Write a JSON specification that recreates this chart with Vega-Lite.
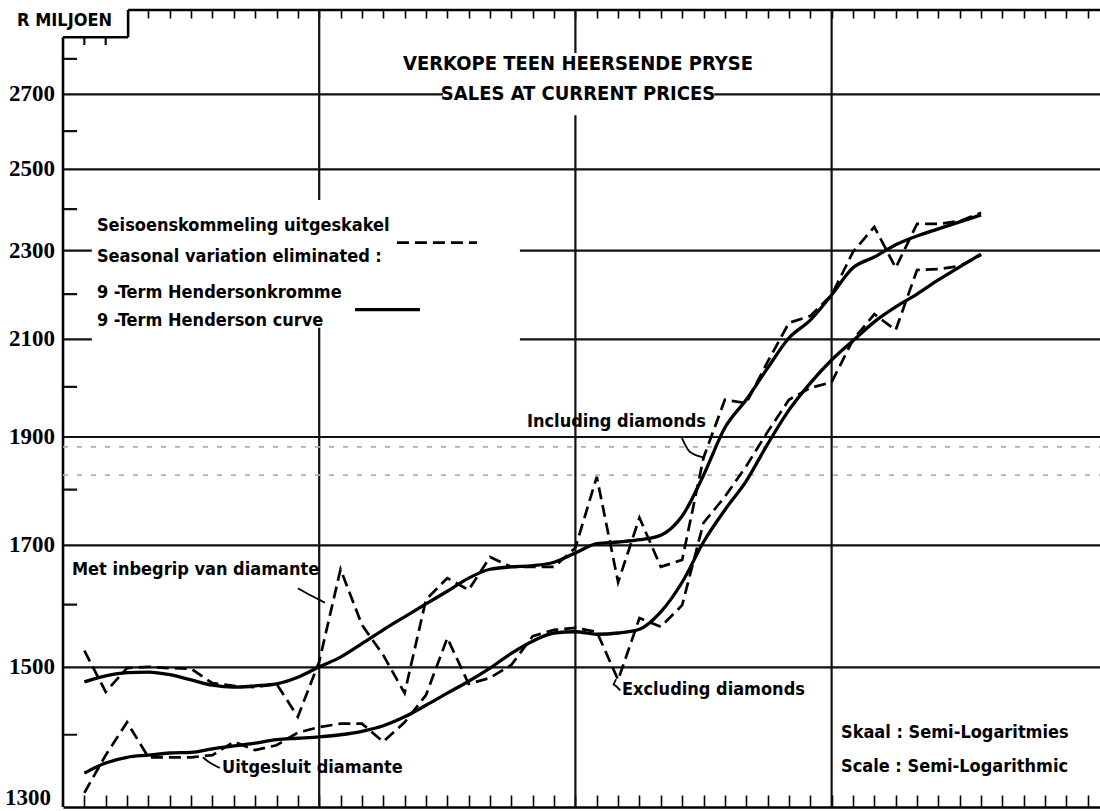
{
  "$schema": "https://vega.github.io/schema/vega-lite/v6.json",
  "width": 1037,
  "height": 797,
  "autosize": {"type": "none"},
  "padding": {"left": 63, "top": 10, "right": 0, "bottom": 4},
  "background": "white",
  "config": {"view": {"stroke": null}, "axis": {"grid": false}},
  "datasets": {
    "sales": [
      {"month": 1, "iSA": 1526, "iH": 1478, "eSA": 1319, "eH": 1346},
      {"month": 2, "iSA": 1463, "iH": 1487, "eSA": 1371, "eH": 1360},
      {"month": 3, "iSA": 1499, "iH": 1492, "eSA": 1418, "eH": 1368},
      {"month": 4, "iSA": 1501, "iH": 1493, "eSA": 1368, "eH": 1371},
      {"month": 5, "iSA": 1499, "iH": 1489, "eSA": 1368, "eH": 1374},
      {"month": 6, "iSA": 1498, "iH": 1481, "eSA": 1368, "eH": 1375},
      {"month": 7, "iSA": 1476, "iH": 1473, "eSA": 1371, "eH": 1380},
      {"month": 8, "iSA": 1472, "iH": 1470, "eSA": 1390, "eH": 1384},
      {"month": 9, "iSA": 1470, "iH": 1472, "eSA": 1378, "eH": 1388},
      {"month": 10, "iSA": 1475, "iH": 1475, "eSA": 1385, "eH": 1393},
      {"month": 11, "iSA": 1426, "iH": 1485, "eSA": 1403, "eH": 1395},
      {"month": 12, "iSA": 1509, "iH": 1501, "eSA": 1411, "eH": 1397},
      {"month": 13, "iSA": 1659, "iH": 1516, "eSA": 1416, "eH": 1400},
      {"month": 14, "iSA": 1567, "iH": 1537, "eSA": 1416, "eH": 1405},
      {"month": 15, "iSA": 1519, "iH": 1559, "eSA": 1390, "eH": 1413},
      {"month": 16, "iSA": 1461, "iH": 1580, "eSA": 1418, "eH": 1426},
      {"month": 17, "iSA": 1608, "iH": 1601, "eSA": 1458, "eH": 1443},
      {"month": 18, "iSA": 1644, "iH": 1622, "eSA": 1546, "eH": 1461},
      {"month": 19, "iSA": 1624, "iH": 1644, "eSA": 1475, "eH": 1479},
      {"month": 20, "iSA": 1680, "iH": 1659, "eSA": 1484, "eH": 1499},
      {"month": 21, "iSA": 1663, "iH": 1663, "eSA": 1504, "eH": 1522},
      {"month": 22, "iSA": 1663, "iH": 1665, "eSA": 1549, "eH": 1541},
      {"month": 23, "iSA": 1663, "iH": 1671, "eSA": 1559, "eH": 1554},
      {"month": 24, "iSA": 1696, "iH": 1687, "eSA": 1562, "eH": 1556},
      {"month": 25, "iSA": 1824, "iH": 1703, "eSA": 1556, "eH": 1552},
      {"month": 26, "iSA": 1637, "iH": 1706, "eSA": 1481, "eH": 1554},
      {"month": 27, "iSA": 1749, "iH": 1710, "eSA": 1578, "eH": 1560},
      {"month": 28, "iSA": 1663, "iH": 1718, "eSA": 1564, "eH": 1588},
      {"month": 29, "iSA": 1675, "iH": 1752, "eSA": 1599, "eH": 1637},
      {"month": 30, "iSA": 1860, "iH": 1827, "eSA": 1740, "eH": 1706},
      {"month": 31, "iSA": 1974, "iH": 1918, "eSA": 1787, "eH": 1763},
      {"month": 32, "iSA": 1967, "iH": 1974, "eSA": 1844, "eH": 1816},
      {"month": 33, "iSA": 2052, "iH": 2039, "eSA": 1910, "eH": 1886},
      {"month": 34, "iSA": 2136, "iH": 2103, "eSA": 1974, "eH": 1953},
      {"month": 35, "iSA": 2151, "iH": 2142, "eSA": 1998, "eH": 2008},
      {"month": 36, "iSA": 2198, "iH": 2198, "eSA": 2010, "eH": 2056},
      {"month": 37, "iSA": 2297, "iH": 2260, "eSA": 2099, "eH": 2097},
      {"month": 38, "iSA": 2357, "iH": 2285, "eSA": 2155, "eH": 2138},
      {"month": 39, "iSA": 2260, "iH": 2314, "eSA": 2120, "eH": 2171},
      {"month": 40, "iSA": 2364, "iH": 2335, "eSA": 2255, "eH": 2200},
      {"month": 41, "iSA": 2364, "iH": 2352, "eSA": 2257, "eH": 2232},
      {"month": 42, "iSA": 2371, "iH": 2369, "eSA": 2264, "eH": 2262},
      {"month": 43, "iSA": 2391, "iH": 2386, "eSA": 2290, "eH": 2292}
    ],
    "segments": [
      {"x1": 0, "x2": 0, "y1": 1300, "y2": 2863, "kind": "frame"},
      {"x1": 0, "x2": 3.05, "y1": 2863, "y2": 2863, "kind": "frame"},
      {"x1": 3.05, "x2": 3.05, "y1": 2863, "y2": 2944, "kind": "frame"},
      {"x1": 3.05, "x2": 48.57, "y1": 2944, "y2": 2944, "kind": "frame"},
      {"x1": 1, "x2": 1, "y1": 2840, "y2": 2863, "kind": "grid"},
      {"x1": 2, "x2": 2, "y1": 2840, "y2": 2863, "kind": "grid"},
      {"x1": 0, "x2": 48.57, "y1": 1500, "y2": 1500, "kind": "grid"},
      {"x1": 0, "x2": 48.57, "y1": 1700, "y2": 1700, "kind": "grid"},
      {"x1": 0, "x2": 48.57, "y1": 1900, "y2": 1900, "kind": "grid"},
      {"x1": 0, "x2": 1.35, "y1": 2100, "y2": 2100, "kind": "grid"},
      {"x1": 21.4, "x2": 48.57, "y1": 2100, "y2": 2100, "kind": "grid"},
      {"x1": 0, "x2": 1.35, "y1": 2300, "y2": 2300, "kind": "grid"},
      {"x1": 21.4, "x2": 48.57, "y1": 2300, "y2": 2300, "kind": "grid"},
      {"x1": 0, "x2": 48.57, "y1": 2500, "y2": 2500, "kind": "grid"},
      {"x1": 0, "x2": 17.8, "y1": 2700, "y2": 2700, "kind": "grid"},
      {"x1": 30.5, "x2": 48.57, "y1": 2700, "y2": 2700, "kind": "grid"},
      {"x1": 12, "x2": 12, "y1": 1300, "y2": 2125, "kind": "grid"},
      {"x1": 12, "x2": 12, "y1": 2423, "y2": 2944, "kind": "grid"},
      {"x1": 24, "x2": 24, "y1": 1300, "y2": 2643, "kind": "grid"},
      {"x1": 24, "x2": 24, "y1": 2817, "y2": 2944, "kind": "grid"},
      {"x1": 36, "x2": 36, "y1": 1300, "y2": 2944, "kind": "grid"},
      {"x1": 0, "x2": 0.66, "y1": 1400, "y2": 1400, "kind": "grid"},
      {"x1": 0, "x2": 0.66, "y1": 1600, "y2": 1600, "kind": "grid"},
      {"x1": 0, "x2": 0.66, "y1": 1800, "y2": 1800, "kind": "grid"},
      {"x1": 0, "x2": 0.66, "y1": 2000, "y2": 2000, "kind": "grid"},
      {"x1": 0, "x2": 0.66, "y1": 2200, "y2": 2200, "kind": "grid"},
      {"x1": 0, "x2": 0.66, "y1": 2400, "y2": 2400, "kind": "grid"},
      {"x1": 0, "x2": 0.66, "y1": 2600, "y2": 2600, "kind": "grid"},
      {"x1": 0, "x2": 0.66, "y1": 2800, "y2": 2800, "kind": "grid"},
      {"x1": 0, "x2": 48.57, "y1": 1881, "y2": 1881, "kind": "faint"},
      {"x1": 0, "x2": 48.57, "y1": 1827, "y2": 1827, "kind": "faint"}
    ],
    "yticks": [
      {"value": 1300, "label": "1300"},
      {"value": 1500, "label": "1500"},
      {"value": 1700, "label": "1700"},
      {"value": 1900, "label": "1900"},
      {"value": 2100, "label": "2100"},
      {"value": 2300, "label": "2300"},
      {"value": 2500, "label": "2500"},
      {"value": 2700, "label": "2700"}
    ],
    "samples": [
      {"x1": 15.64, "x2": 19.39, "y": 2319, "kind": "dash"},
      {"x1": 13.68, "x2": 16.72, "y": 2165, "kind": "solid"}
    ],
    "arrows": [
      {"id": "a", "ord": 1, "m": 11.0, "v": 1627},
      {"id": "a", "ord": 2, "m": 11.66, "v": 1614},
      {"id": "a", "ord": 3, "m": 12.27, "v": 1603},
      {"id": "b", "ord": 1, "m": 28.99, "v": 1898},
      {"id": "b", "ord": 2, "m": 29.37, "v": 1871},
      {"id": "b", "ord": 3, "m": 30.07, "v": 1860},
      {"id": "c", "ord": 1, "m": 7.35, "v": 1353},
      {"id": "c", "ord": 2, "m": 6.8, "v": 1362},
      {"id": "c", "ord": 3, "m": 6.55, "v": 1368},
      {"id": "d", "ord": 1, "m": 26.1, "v": 1465},
      {"id": "d", "ord": 2, "m": 25.75, "v": 1474},
      {"id": "d", "ord": 3, "m": 25.9, "v": 1482}
    ],
    "labels": [
      {"m": -2.15, "v": 2911, "text": "R MILJOEN", "style": "unit"},
      {"m": 24.12, "v": 2785, "text": "VERKOPE TEEN HEERSENDE PRYSE", "style": "title"},
      {"m": 24.12, "v": 2700, "text": "SALES AT CURRENT PRICES", "style": "title"},
      {"m": 1.59, "v": 2359, "text": "Seisoenskommeling uitgeskakel", "style": "legend"},
      {"m": 1.59, "v": 2285, "text": "Seasonal variation eliminated :", "style": "legend"},
      {"m": 1.59, "v": 2202, "text": "9 -Term Hendersonkromme", "style": "legend"},
      {"m": 1.59, "v": 2140, "text": "9 -Term Henderson curve", "style": "legend"},
      {"m": 21.73, "v": 1929, "text": "Including diamonds", "style": "label"},
      {"m": 0.42, "v": 1658, "text": "Met inbegrip van diamante", "style": "label"},
      {"m": 7.45, "v": 1353, "text": "Uitgesluit diamante", "style": "label"},
      {"m": 26.18, "v": 1465, "text": "Excluding diamonds", "style": "label"},
      {"m": 36.44, "v": 1403, "text": "Skaal : Semi-Logaritmies", "style": "label"},
      {"m": 36.44, "v": 1354, "text": "Scale : Semi-Logarithmic", "style": "label"}
    ]
  },
  "resolve": {"axis": {"x": "independent"}},
  "layer": [
    {
      "data": {"name": "segments"},
      "mark": {"type": "rule"},
      "encoding": {
        "x": {
          "field": "x1", "type": "quantitative",
          "scale": {"domain": [0, 48.57], "nice": false, "zero": false},
          "axis": {
            "orient": "bottom", "values": [1,2,3,4,5,6,7,8,9,10,11,12,13,14,15,16,17,18,19,20,21,22,23,24,25,26,27,28,29,30,31,32,33,34,35,36,37,38,39,40,41,42,43,44,45,46,47,48],
            "labels": false, "title": null, "tickSize": -12, "tickWidth": 1.6, "tickColor": "#000",
            "domain": true, "domainWidth": 2.6, "domainColor": "#000", "grid": false
          }
        },
        "x2": {"field": "x2"},
        "y": {
          "field": "y1", "type": "quantitative",
          "scale": {"type": "log", "domain": [1300, 2944], "nice": false},
          "axis": null
        },
        "y2": {"field": "y2"},
        "color": {"field": "kind", "type": "nominal", "legend": null,
          "scale": {"domain": ["frame", "grid", "faint"], "range": ["#000000", "#111111", "#b0b0b0"]}},
        "strokeWidth": {"field": "kind", "type": "nominal", "legend": null,
          "scale": {"domain": ["frame", "grid", "faint"], "range": [2.6, 1.8, 1]}},
        "strokeDash": {"field": "kind", "type": "nominal", "legend": null,
          "scale": {"domain": ["frame", "grid", "faint"], "range": [[1, 0], [1, 0], [5, 9]]}}
      }
    },
    {
      "data": {"name": "yticks"},
      "transform": [{"filter": "datum.value > 1300"}],
      "mark": {"type": "text", "align": "right", "baseline": "middle", "dx": -8, "font": "Liberation Sans Narrow", "fontSize": 23, "fontWeight": "bold", "color": "#000"},
      "encoding": {
        "x": {"datum": 0, "type": "quantitative", "axis": null},
        "y": {"field": "value", "type": "quantitative", "axis": null},
        "text": {"field": "label"}
      }
    },
    {
      "data": {"name": "yticks"},
      "transform": [{"filter": "datum.value == 1300"}],
      "mark": {"type": "text", "align": "right", "baseline": "middle", "dx": -12, "dy": -9, "font": "Liberation Sans Narrow", "fontSize": 23, "fontWeight": "bold", "color": "#000"},
      "encoding": {
        "x": {"datum": 0, "type": "quantitative", "axis": null},
        "y": {"field": "value", "type": "quantitative", "axis": null},
        "text": {"field": "label"}
      }
    },
    {
      "data": {"name": "sales"},
      "transform": [{"fold": ["iH", "eH"], "as": ["series", "value"]}],
      "mark": {"type": "line", "color": "#000", "strokeWidth": 3.3, "interpolate": "monotone"},
      "encoding": {
        "x": {
          "field": "month", "type": "quantitative",
          "axis": {
            "orient": "top", "values": [4,5,6,7,8,9,10,11,12,13,14,15,16,17,18,19,20,21,22,23,24,25,26,27,28,29,30,31,32,33,34,35,36,37,38,39,40,41,42,43,44,45,46,47,48],
            "labels": false, "title": null, "tickSize": -8, "tickWidth": 1.6, "tickColor": "#000",
            "domain": false, "grid": false
          }
        },
        "y": {"field": "value", "type": "quantitative", "axis": null},
        "detail": {"field": "series"}
      }
    },
    {
      "data": {"name": "sales"},
      "transform": [{"fold": ["iSA", "eSA"], "as": ["series", "value"]}],
      "mark": {"type": "line", "color": "#000", "strokeWidth": 2.7, "strokeDash": [12, 6]},
      "encoding": {
        "x": {"field": "month", "type": "quantitative", "axis": null},
        "y": {"field": "value", "type": "quantitative", "axis": null},
        "detail": {"field": "series"}
      }
    },
    {
      "data": {"name": "samples"},
      "transform": [{"filter": "datum.kind == 'dash'"}],
      "mark": {"type": "rule", "color": "#000", "strokeWidth": 2.7, "strokeDash": [12, 6]},
      "encoding": {
        "x": {"field": "x1", "type": "quantitative", "axis": null},
        "x2": {"field": "x2"},
        "y": {"field": "y", "type": "quantitative", "axis": null}
      }
    },
    {
      "data": {"name": "samples"},
      "transform": [{"filter": "datum.kind == 'solid'"}],
      "mark": {"type": "rule", "color": "#000", "strokeWidth": 3.3},
      "encoding": {
        "x": {"field": "x1", "type": "quantitative", "axis": null},
        "x2": {"field": "x2"},
        "y": {"field": "y", "type": "quantitative", "axis": null}
      }
    },
    {
      "data": {"name": "arrows"},
      "mark": {"type": "line", "color": "#000", "strokeWidth": 1.8, "interpolate": "monotone"},
      "encoding": {
        "x": {"field": "m", "type": "quantitative", "axis": null},
        "y": {"field": "v", "type": "quantitative", "axis": null},
        "detail": {"field": "id"},
        "order": {"field": "ord"}
      }
    },
    {
      "data": {"name": "labels"},
      "transform": [{"filter": "datum.style == 'title'"}],
      "mark": {"type": "text", "align": "center", "baseline": "middle", "font": "Liberation Sans Narrow, DejaVu Sans Condensed, DejaVu Sans", "fontSize": 20, "fontWeight": "bold", "color": "#000"},
      "encoding": {
        "x": {"field": "m", "type": "quantitative", "axis": null},
        "y": {"field": "v", "type": "quantitative", "axis": null},
        "text": {"field": "text"}
      }
    },
    {
      "data": {"name": "labels"},
      "transform": [{"filter": "datum.style != 'title'"}],
      "mark": {"type": "text", "align": "left", "baseline": "middle", "font": "Liberation Sans Narrow, DejaVu Sans Condensed, DejaVu Sans", "fontSize": 18, "fontWeight": "bold", "color": "#000"},
      "encoding": {
        "x": {"field": "m", "type": "quantitative", "axis": null},
        "y": {"field": "v", "type": "quantitative", "axis": null},
        "text": {"field": "text"}
      }
    }
  ]
}
